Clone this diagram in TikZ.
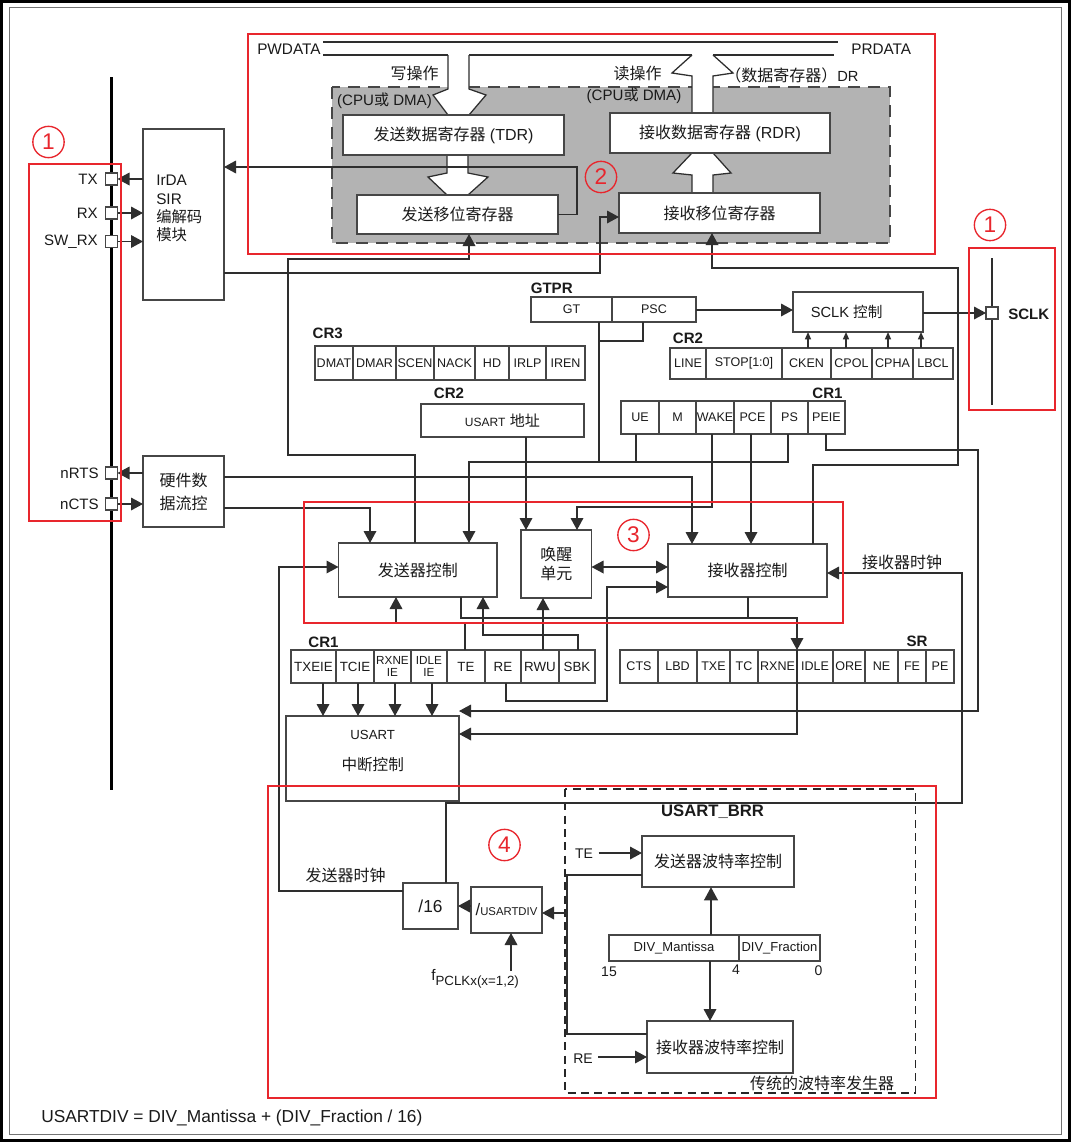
\documentclass[tikz,border=0pt]{standalone}
\usepackage{fontspec}
\setmainfont{Liberation Sans}
\newfontfamily\cjk{Noto Sans CJK SC}
\usetikzlibrary{arrows.meta}
\newcommand\zht[1]{{\cjk #1}}
\definecolor{lnc}{HTML}{2E2E2E}
\definecolor{bd}{HTML}{464646}
\definecolor{rd}{HTML}{E8262D}
\definecolor{gf}{HTML}{B3B3B3}
\definecolor{tx}{HTML}{1A1A1A}
\newcommand\mkbox[7][]{\node[bxs,#1,minimum width={(#4-#3)*0.75pt},minimum height={(#6-#5)*0.75pt}] (#2) at ({(#3+#4)/2},{(#5+#6)/2}) {#7};}
\tikzset{
 bxs/.style={draw=bd, fill=white, line width=0.9pt, inner sep=0pt, outer sep=0pt, text=tx, align=center, font=\fontsize{12}{14}\selectfont},
 reg/.style={font=\fontsize{9.4}{10}\selectfont},
 regb/.style={font=\fontsize{10}{11}\selectfont},
 regc/.style={font=\fontsize{8.8}{9.2}\selectfont},
 ttl/.style={text=tx, inner sep=0pt, font=\bfseries\fontsize{11.3}{13}\selectfont},
 lbl/.style={text=tx, inner sep=0pt, font=\fontsize{12}{14}\selectfont},
 sq/.style={draw=bd, fill=white, line width=0.9pt, minimum size=9pt, inner sep=0pt, outer sep=0pt},
 wire/.style={draw=lnc, line width=0.95pt},
 arr/.style={wire, -{Triangle[length=9pt,width=9.5pt]}},
 darr/.style={wire, {Triangle[length=9pt,width=9.5pt]}-{Triangle[length=9pt,width=9.5pt]}},
 sarr/.style={wire, -{Triangle[length=5.5pt,width=4.5pt]}},
 tarr/.style={draw=lnc, line width=2.2pt, -{Triangle[length=10pt,width=10pt]}},
 redb/.style={draw=rd, line width=1.1pt},
 cnum/.style={draw=rd, circle, line width=1pt, minimum size=23.5pt, inner sep=0pt, text=rd, font=\fontsize{17}{17}\selectfont},
}
\begin{document}
\begin{tikzpicture}[x=0.75pt,y=-0.75pt]
\useasboundingbox (0,0) rectangle (1071,1142);
\fill[white] (0,0) rectangle (1071,1142);
\draw[black, line width=2.6pt] (1.7,1.7) rectangle (1069.3,1140.3);
\draw[draw=black!55, line width=0.7pt] (9,7) rectangle (1061,1134);

% gray region
\filldraw[fill=gf, draw=bd, line width=0.9pt, dash pattern=on 9pt off 6pt] (332,87) rectangle (890,243);

% data bus
\draw[wire] (323,42) -- (838,42);
\draw[wire] (323,55) -- (448,55);
\draw[wire] (469,55) -- (692,55);
\draw[wire] (713,55) -- (834,55);
% write arrow
\fill[white] (448,55) -- (448,89) -- (433,95) -- (448,115) -- (469,115) -- (486,95) -- (469,89) -- (469,55) -- cycle;
\draw[wire] (448,55) -- (448,89) -- (433,95) -- (448,115);
\draw[wire] (469,55) -- (469,89) -- (486,95) -- (469,115);
% read arrow
\fill[white] (692,113) -- (692,76) -- (672,73) -- (692,55) -- (713,55) -- (733,73) -- (713,76) -- (713,113) -- cycle;
\draw[wire] (692,113) -- (692,76) -- (672,73) -- (692,55);
\draw[wire] (713,113) -- (713,76) -- (733,73) -- (713,55);
% TDR -> shift
\fill[white] (447,155) -- (447,173) -- (428,177) -- (447,195) -- (468,195) -- (488,177) -- (468,173) -- (468,155) -- cycle;
\draw[wire] (447,155) -- (447,173) -- (428,177) -- (447,195);
\draw[wire] (468,155) -- (468,173) -- (488,177) -- (468,195);
% shift -> RDR
\fill[white] (692,193) -- (692,175) -- (673,173) -- (692,153) -- (713,153) -- (731,173) -- (713,175) -- (713,193) -- cycle;
\draw[wire] (692,193) -- (692,175) -- (673,173) -- (692,153);
\draw[wire] (713,193) -- (713,175) -- (731,173) -- (713,153);

\node[lbl, anchor=west, font=\fontsize{11.5}{13}\selectfont] (pw) at (257,49) {PWDATA};
\node[lbl, anchor=west, font=\fontsize{11.5}{13}\selectfont] (pr) at (851,49) {PRDATA};
\node[lbl] (wop) at (414.5,73) {\zht{写操作}};
\node[lbl] (rop) at (637.5,73) {\zht{读操作}};
\node[lbl, anchor=west] (drl) at (725,75) {\zht{（数据寄存器）}{\fontsize{11}{12}\selectfont DR}};
\node[lbl, font=\fontsize{11.3}{13}\selectfont] (cpu1) at (384.5,101) {(CPU\zht{或} DMA)};
\node[lbl, font=\fontsize{11.3}{13}\selectfont] (cpu2) at (634,96) {(CPU\zht{或} DMA)};

\mkbox{tdr}{343}{564}{115}{155}{\zht{发送数据寄存器} (TDR)}
\mkbox{rdr}{610}{830}{113}{153}{\zht{接收数据寄存器} (RDR)}
\mkbox{tsr}{357}{558}{195}{234}{\zht{发送移位寄存器}}
\mkbox{rsr}{619}{820}{193}{233}{\zht{接收移位寄存器}}

% left side
\draw[black, line width=2.3pt] (111.7,77) -- (111.7,790);
\mkbox{irda}{143}{224}{129}{300}{}
\node[lbl, anchor=west, align=left, font=\fontsize{11.5}{13.7}\selectfont] (irdat) at (156,208.5) {IrDA\\SIR\\\zht{编解码}\\\zht{模块}};
\mkbox[font=\fontsize{12}{17.3}\selectfont]{hw}{143}{224}{456}{527}{\zht{硬件数}\\\zht{据流控}}
\node[sq] (txsq) at (111.5,179) {};
\node[sq] (rxsq) at (111.5,213) {};
\node[sq] (swsq) at (111.5,241.5) {};
\node[sq] (rtssq) at (111.5,473) {};
\node[sq] (ctssq) at (111.5,504) {};
\node[lbl, anchor=east, font=\fontsize{11.3}{13}\selectfont] (txl) at (98,179) {TX};
\node[lbl, anchor=east, font=\fontsize{11.3}{13}\selectfont] (rxl) at (98,213) {RX};
\node[lbl, anchor=east, font=\fontsize{11.3}{13}\selectfont] (swl) at (98,241.5) {SW\_RX};
\node[lbl, anchor=east, font=\fontsize{11.3}{13}\selectfont] (rtsl) at (99,473) {nRTS};
\node[lbl, anchor=east, font=\fontsize{11.3}{13}\selectfont] (ctsl) at (99,504) {nCTS};

% registers
\node[ttl] (gtprl) at (551.7,288) {GTPR};
\mkbox[reg]{kgt}{531}{612}{297}{322}{GT}
\mkbox[reg]{kpsc}{612}{696}{297}{322}{PSC}
\mkbox[font=\fontsize{11}{13}\selectfont]{sclk}{793}{923}{292}{332}{SCLK \zht{控制}\hspace*{17pt}}
\node[ttl] (cr2al) at (688,338) {CR2};
\mkbox[reg]{kline}{670}{706}{348}{379}{LINE}
\mkbox[reg]{kstop}{706}{782}{348}{379}{STOP[1:0]}
\mkbox[reg]{kcken}{782}{831}{348}{379}{CKEN}
\mkbox[reg]{kcpol}{831}{872}{348}{379}{CPOL}
\mkbox[reg]{kcpha}{872}{913}{348}{379}{CPHA}
\mkbox[reg]{klbcl}{913}{953}{348}{379}{LBCL}
\node[ttl] (cr3l) at (327.7,333) {CR3};
\mkbox[reg]{kdmat}{315}{353}{346}{380}{DMAT}
\mkbox[reg]{kdmar}{353}{396}{346}{380}{DMAR}
\mkbox[reg]{kscen}{396}{434}{346}{380}{SCEN}
\mkbox[reg]{knack}{434}{475}{346}{380}{NACK}
\mkbox[reg]{khd}{475}{509}{346}{380}{HD}
\mkbox[reg]{kirlp}{509}{546}{346}{380}{IRLP}
\mkbox[reg]{kiren}{546}{585}{346}{380}{IREN}
\node[ttl] (cr2bl) at (449,393) {CR2};
\mkbox{addr}{421}{584}{404}{437}{{\fontsize{9}{10}\selectfont USART} {\fontsize{11.3}{13}\selectfont\zht{地址}}}
\node[ttl] (cr1al) at (827.5,393) {CR1};
\mkbox[reg]{kue}{621}{659}{401}{434}{UE}
\mkbox[reg]{km}{659}{696}{401}{434}{M}
\mkbox[reg]{kwake}{696}{734}{401}{434}{WAKE}
\mkbox[reg]{kpce}{734}{771}{401}{434}{PCE}
\mkbox[reg]{kps}{771}{808}{401}{434}{PS}
\mkbox[reg]{kpeie}{808}{845}{401}{434}{PEIE}

% control blocks
\mkbox{txc}{338.5}{497}{543}{597}{\zht{发送器控制}}
\mkbox[font=\fontsize{12}{14.3}\selectfont]{wakeu}{521}{591.5}{530}{598}{\zht{唤醒}\\\zht{单元}}
\mkbox{rxc}{668}{827}{544}{597}{\zht{接收器控制}}

\node[ttl] (cr1bl) at (323.5,642) {CR1};
\mkbox[regb]{ktxeie}{291}{336}{650}{683}{TXEIE}
\mkbox[regb]{ktcie}{336}{374}{650}{683}{TCIE}
\mkbox[regc]{krxneie}{374}{411}{650}{683}{RXNE\\IE}
\mkbox[regc]{kidleie}{411}{447}{650}{683}{IDLE\\IE}
\mkbox[regb]{kte}{447}{485}{650}{683}{TE}
\mkbox[regb]{kre}{485}{521}{650}{683}{RE}
\mkbox[regb]{krwu}{521}{559}{650}{683}{RWU}
\mkbox[regb]{ksbk}{559}{595}{650}{683}{SBK}
\node[ttl] (srl) at (917,641) {SR};
\mkbox[reg]{kcts}{620}{658}{650}{683}{CTS}
\mkbox[reg]{klbd}{658}{697}{650}{683}{LBD}
\mkbox[reg]{ktxe}{697}{730}{650}{683}{TXE}
\mkbox[reg]{ktc}{730}{758}{650}{683}{TC}
\mkbox[reg]{krxne}{758}{797}{650}{683}{RXNE}
\mkbox[reg]{kidle}{797}{833}{650}{683}{IDLE}
\mkbox[reg]{kore}{833}{865}{650}{683}{ORE}
\mkbox[reg]{kne}{865}{898}{650}{683}{NE}
\mkbox[reg]{kfe}{898}{926}{650}{683}{FE}
\mkbox[reg]{kpe}{926}{954}{650}{683}{PE}

\mkbox{usart}{286}{459}{716}{801}{}
\node[lbl, font=\fontsize{9.9}{12}\selectfont] (usl1) at (372.7,735) {USART};
\node[lbl, font=\fontsize{11.7}{13}\selectfont] (usl2) at (372.7,765) {\zht{中断控制}};

% baud rate section
\draw[draw=black!85, line width=0.9pt, dash pattern=on 6pt off 4pt] (565,789) rectangle (915.5,1093);
\node[ttl, font=\bfseries\fontsize{12.5}{14}\selectfont] (brrl) at (712.5,812) {USART\_BRR};
\mkbox[font=\fontsize{13}{15}\selectfont]{div16}{403}{458}{883}{929}{/16}
\mkbox{udiv}{471}{542}{887}{933}{{\fontsize{12.5}{14}\selectfont /}{\fontsize{8.5}{10}\selectfont USARTDIV}}
\mkbox[font=\fontsize{12}{14}\selectfont]{tbr}{642}{794}{836}{887}{\zht{发送器波特率控制}}
\mkbox[font=\fontsize{12}{14}\selectfont]{rbr}{647}{793}{1021}{1073}{\zht{接收器波特率控制}}
\mkbox[font=\fontsize{9.75}{11}\selectfont]{divm}{609}{739}{935}{961}{DIV\_Mantissa}
\mkbox[font=\fontsize{9.75}{11}\selectfont]{divf}{739}{820}{935}{961}{DIV\_Fraction}
\node[lbl, font=\fontsize{10.5}{12}\selectfont] (b15) at (609,972) {15};
\node[lbl, font=\fontsize{10.5}{12}\selectfont] (b4) at (736,970) {4};
\node[lbl, font=\fontsize{10.5}{12}\selectfont] (b0) at (818.6,971) {0};
\node[text=tx, font=\fontsize{10.5}{12}\selectfont, inner sep=4pt] (tel) at (584,854) {TE};
\node[text=tx, font=\fontsize{10.5}{12}\selectfont, inner sep=4pt] (rel) at (583,1059) {RE};
\node[lbl, anchor=base west, font=\fontsize{11.5}{13}\selectfont] (fpk) at (431,980) {f\raisebox{-4pt}{\fontsize{10}{11}\selectfont PCLKx(x=1,2)}};
\coordinate (fp) at (511,971);
\node[lbl] (rxclk) at (902,562) {\zht{接收器时钟}};
\node[lbl] (txclk) at (345.5,875) {\zht{发送器时钟}};
\node[lbl] (tradl) at (822,1083) {\zht{传统的波特率发生器}};
\node[lbl, anchor=west, font=\fontsize{13}{15}\selectfont] (form) at (41,1118) {USARTDIV = DIV\_Mantissa + (DIV\_Fraction / 16)};

% SCLK pin
\draw[wire] (992,258) -- (992,405);
\node[sq] (sclksq) at (992,313) {};
\node[ttl, anchor=west] (sclkl) at (1008,314) {SCLK};

% ---------- connectors ----------
\draw[arr] (irda.west |- txsq.east) -- (txsq.east);
\draw[arr] (rxsq.east) -- (irda.west |- rxsq.east);
\draw[arr] (swsq.east) -- (irda.west |- swsq.east);
\draw[arr] (hw.west |- rtssq.east) -- (rtssq.east);
\draw[arr] (ctssq.east) -- (hw.west |- ctssq.east);
\draw[arr] (tsr.east) -| (577,167) -- (irda.east |- 0,167);
\draw[arr] (irda.east |- 0,273) -- (600,273) -- (600,217) -- (rsr.west |- 0,217);
\draw[arr] (txc.north -| 415,0) -- (415,455) -- (288,455) -- (288,259) -- (469,259) -- (tsr.south -| 469,0);
\draw[arr] (rxc.north -| 813,0) -- (813,465) -- (958,465) -- (958,268) -- (712,268) -- (rsr.south -| 712,0);
\draw[arr] (hw.east |- 0,477) -- (692,477) -- (rxc.north -| 692,0);
\draw[arr] (hw.east |- 0,508) -- (370,508) -- (txc.north -| 370,0);
\draw[arr] (kps.south -| 788,0) -- (788,462) -- (469,462) -- (txc.north -| 469,0);
\draw[wire] (kgt.south -| 599,0) -- (599,462);
\draw[wire] (kpsc.south -| 643,0) -- (643,341) -- (599,341);
\draw[wire] (kue.south -| 636,0) -- (636,462);
\draw[arr] (kwake.south -| 712,0) -- (712,507) -- (577,507) -- (wakeu.north -| 577,0);
\draw[arr] (addr.south -| 526,0) -- (wakeu.north -| 526,0);
\draw[arr] (kpce.south -| 751,0) -- (rxc.north -| 751,0);
\draw[arr] (kpeie.south -| 826,0) -- (826,450) -- (978,450) -- (978,711) -- (usart.east |- 0,711);
\draw[arr] (txc.south -| 461,0) -- (461,618) -- (797,618) -- (kidle.north west);
\draw[wire] (rxc.south -| 748,0) -- (748,618);
\draw[arr] (kidle.north west) -- (797,734) -- (usart.east |- 0,734);
\draw[arr] (kte.north -| 465,0) -- (465,623) -- (396,623) -- (txc.south -| 396,0);
\draw[arr] (ksbk.north -| 578,0) -- (578,635) -- (483,635) -- (txc.south -| 483,0);
\draw[arr] (krwu.north -| 543,0) -- (wakeu.south -| 543,0);
\draw[arr] (kre.south -| 506,0) -- (506,701) -- (607,701) -- (607,587) -- (rxc.west |- 0,587);
\draw[darr] (wakeu.east |- 0,567) -- (rxc.west |- 0,567);
\draw[arr] (div16.north -| 446,0) -- (446,803) -- (962,803) -- (962,573) -- (rxc.east |- 0,573);
\draw[arr] (div16.west |- 0,891) -- (279,891) -- (279,567) -- (txc.west |- 0,567);
\draw[arr] (udiv.west |- 0,906) -- (div16.east |- 0,906);
\draw[wire] (tbr.west |- 0,875) -- (567,875) -- (567,1034) -- (rbr.west |- 0,1034);
\draw[arr] (567,913) -- (udiv.east |- 0,913);
\draw[arr] (tel.east |- 0,853) -- (tbr.west |- 0,853);
\draw[arr] (rel.east |- 0,1057) -- (rbr.west |- 0,1057);
\draw[tarr] (divm.north -| 711,0) -- (tbr.south -| 711,0);
\draw[arr] (divm.south -| 710,0) -- (rbr.north -| 710,0);
\draw[arr] (fp) -- (udiv.south -| fp);
\draw[arr] (kpsc.east |- 0,310) -- (sclk.west |- 0,310);
\draw[arr] (sclk.east |- sclksq.west) -- (sclksq.west);
\foreach \xx/\nm in {808/kcken, 846/kcpol, 888/kcpha, 921/klbcl}
  \draw[sarr] (\nm.north -| \xx,0) -- (sclk.south -| \xx,0);
\foreach \xx/\nm in {323/ktxeie, 358/ktcie, 395/krxneie, 432/kidleie}
  \draw[arr] (\nm.south -| \xx,0) -- (usart.north -| \xx,0);

% ---------- red marks ----------
\draw[redb] (29,164) rectangle (121,521);
\draw[redb] (969,248) rectangle (1055,410);
\draw[redb] (248,34) rectangle (935,254);
\draw[redb] (304,502) rectangle (843,623);
\draw[redb] (268,786) rectangle (936,1098);
\node[cnum] (n1a) at (48.5,142) {1};
\node[cnum] (n1b) at (990,225) {1};
\node[cnum] (n2) at (601,177) {2};
\node[cnum] (n3) at (633.5,535) {3};
\node[cnum] (n4) at (504.5,845) {4};
\end{tikzpicture}
\end{document}
